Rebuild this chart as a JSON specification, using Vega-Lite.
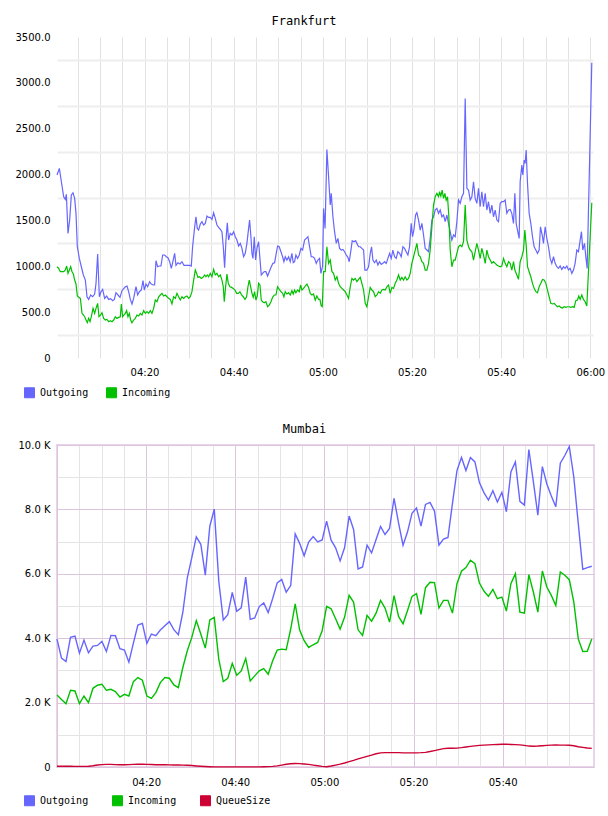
{
  "$schema": "https://vega.github.io/schema/vega-lite/v6.json",
  "padding": {"left": 15, "top": 15, "right": 0, "bottom": 0},
  "config": {
    "view": {"stroke": null},
    "font": "DejaVu Sans",
    "title": {"font": "DejaVu Sans Mono", "fontSize": 12, "fontWeight": "normal", "color": "#000000", "offset": 4, "dx": -21},
    "axis": {"labelFont": "DejaVu Sans", "labelFontSize": 10, "labelColor": "#000000", "domain": false, "ticks": false, "tickSize": 0, "title": null, "labelFlush": false, "labelOverlap": false, "labelBound": false}
  },
  "datasets": {
    "frankfurt": [
      {"min":0.37,"series":"Outgoing","value":1995},{"min":0.90,"series":"Outgoing","value":2067},{"min":1.35,"series":"Outgoing","value":1922},{"min":1.87,"series":"Outgoing","value":1758},{"min":2.24,"series":"Outgoing","value":1729},{"min":2.47,"series":"Outgoing","value":1784},{"min":2.84,"series":"Outgoing","value":1359},{"min":3.21,"series":"Outgoing","value":1504},{"min":3.59,"series":"Outgoing","value":1777},{"min":3.96,"series":"Outgoing","value":1802},
      {"min":4.33,"series":"Outgoing","value":1740},{"min":4.63,"series":"Outgoing","value":1577},{"min":4.93,"series":"Outgoing","value":1213},{"min":5.38,"series":"Outgoing","value":1086},{"min":5.83,"series":"Outgoing","value":995},{"min":6.28,"series":"Outgoing","value":905},{"min":6.73,"series":"Outgoing","value":850},{"min":7.10,"series":"Outgoing","value":668},{"min":7.47,"series":"Outgoing","value":639},{"min":7.92,"series":"Outgoing","value":687},
      {"min":8.37,"series":"Outgoing","value":668},{"min":8.82,"series":"Outgoing","value":698},{"min":9.12,"series":"Outgoing","value":814},{"min":9.49,"series":"Outgoing","value":1133},{"min":9.87,"series":"Outgoing","value":668},{"min":10.24,"series":"Outgoing","value":723},{"min":10.61,"series":"Outgoing","value":748},{"min":11.06,"series":"Outgoing","value":650},{"min":11.51,"series":"Outgoing","value":676},{"min":11.96,"series":"Outgoing","value":639},
      {"min":12.41,"series":"Outgoing","value":647},{"min":12.86,"series":"Outgoing","value":625},{"min":13.23,"series":"Outgoing","value":639},{"min":13.60,"series":"Outgoing","value":712},{"min":14.05,"series":"Outgoing","value":687},{"min":14.50,"series":"Outgoing","value":661},{"min":14.95,"series":"Outgoing","value":734},{"min":15.32,"series":"Outgoing","value":756},{"min":15.70,"series":"Outgoing","value":777},{"min":16.07,"series":"Outgoing","value":785},
      {"min":16.44,"series":"Outgoing","value":723},{"min":16.82,"series":"Outgoing","value":639},{"min":17.19,"series":"Outgoing","value":589},{"min":17.56,"series":"Outgoing","value":650},{"min":18.09,"series":"Outgoing","value":777},{"min":18.46,"series":"Outgoing","value":687},{"min":18.83,"series":"Outgoing","value":723},{"min":19.28,"series":"Outgoing","value":741},{"min":19.66,"series":"Outgoing","value":843},{"min":19.96,"series":"Outgoing","value":741},
      {"min":20.33,"series":"Outgoing","value":807},{"min":20.70,"series":"Outgoing","value":777},{"min":21.15,"series":"Outgoing","value":832},{"min":21.52,"series":"Outgoing","value":807},{"min":21.97,"series":"Outgoing","value":796},{"min":22.27,"series":"Outgoing","value":796},{"min":22.57,"series":"Outgoing","value":1061},{"min":22.94,"series":"Outgoing","value":995},{"min":23.32,"series":"Outgoing","value":1003},{"min":23.69,"series":"Outgoing","value":1003},
      {"min":24.07,"series":"Outgoing","value":1123},{"min":24.51,"series":"Outgoing","value":1123},{"min":24.89,"series":"Outgoing","value":1104},{"min":25.26,"series":"Outgoing","value":1094},{"min":25.64,"series":"Outgoing","value":1050},{"min":26.01,"series":"Outgoing","value":977},{"min":26.31,"series":"Outgoing","value":1039},{"min":26.76,"series":"Outgoing","value":1141},{"min":27.06,"series":"Outgoing","value":1010},{"min":27.50,"series":"Outgoing","value":1039},
      {"min":27.95,"series":"Outgoing","value":1025},{"min":28.40,"series":"Outgoing","value":1050},{"min":28.85,"series":"Outgoing","value":1010},{"min":29.30,"series":"Outgoing","value":1010},{"min":29.75,"series":"Outgoing","value":1010},{"min":30.19,"series":"Outgoing","value":1010},{"min":30.49,"series":"Outgoing","value":1003},{"min":30.79,"series":"Outgoing","value":1213},{"min":31.24,"series":"Outgoing","value":1424},{"min":31.54,"series":"Outgoing","value":1540},
      {"min":31.84,"series":"Outgoing","value":1413},{"min":32.14,"series":"Outgoing","value":1395},{"min":32.51,"series":"Outgoing","value":1460},{"min":32.88,"series":"Outgoing","value":1486},{"min":33.26,"series":"Outgoing","value":1450},{"min":33.63,"series":"Outgoing","value":1468},{"min":34.01,"series":"Outgoing","value":1548},{"min":34.38,"series":"Outgoing","value":1533},{"min":34.75,"series":"Outgoing","value":1533},{"min":35.13,"series":"Outgoing","value":1511},
      {"min":35.50,"series":"Outgoing","value":1584},{"min":35.87,"series":"Outgoing","value":1522},{"min":36.25,"series":"Outgoing","value":1450},{"min":36.62,"series":"Outgoing","value":1424},{"min":37.00,"series":"Outgoing","value":1402},{"min":37.37,"series":"Outgoing","value":1377},{"min":37.67,"series":"Outgoing","value":1213},{"min":37.97,"series":"Outgoing","value":984},{"min":38.27,"series":"Outgoing","value":1286},{"min":38.57,"series":"Outgoing","value":1475},
      {"min":38.86,"series":"Outgoing","value":1286},{"min":39.24,"series":"Outgoing","value":1359},{"min":39.61,"series":"Outgoing","value":1341},{"min":39.99,"series":"Outgoing","value":1377},{"min":40.36,"series":"Outgoing","value":1322},{"min":40.73,"series":"Outgoing","value":1286},{"min":41.11,"series":"Outgoing","value":1221},{"min":41.48,"series":"Outgoing","value":1250},{"min":41.85,"series":"Outgoing","value":1195},{"min":42.23,"series":"Outgoing","value":1104},
      {"min":42.60,"series":"Outgoing","value":1141},{"min":42.97,"series":"Outgoing","value":1250},{"min":43.35,"series":"Outgoing","value":1413},{"min":43.57,"series":"Outgoing","value":1504},{"min":43.87,"series":"Outgoing","value":1322},{"min":44.10,"series":"Outgoing","value":1141},{"min":44.32,"series":"Outgoing","value":1086},{"min":44.62,"series":"Outgoing","value":1322},{"min":44.92,"series":"Outgoing","value":1068},{"min":45.22,"series":"Outgoing","value":1195},
      {"min":45.59,"series":"Outgoing","value":1268},{"min":45.89,"series":"Outgoing","value":1086},{"min":46.19,"series":"Outgoing","value":905},{"min":46.49,"series":"Outgoing","value":923},{"min":46.86,"series":"Outgoing","value":941},{"min":47.23,"series":"Outgoing","value":941},{"min":47.61,"series":"Outgoing","value":894},{"min":47.98,"series":"Outgoing","value":941},{"min":48.43,"series":"Outgoing","value":995},{"min":48.80,"series":"Outgoing","value":1032},
      {"min":49.18,"series":"Outgoing","value":1039},{"min":49.55,"series":"Outgoing","value":1141},{"min":49.85,"series":"Outgoing","value":1221},{"min":50.22,"series":"Outgoing","value":1213},{"min":50.60,"series":"Outgoing","value":1159},{"min":50.97,"series":"Outgoing","value":1104},{"min":51.27,"series":"Outgoing","value":1050},{"min":51.57,"series":"Outgoing","value":1104},{"min":51.94,"series":"Outgoing","value":1068},{"min":52.32,"series":"Outgoing","value":1104},
      {"min":52.69,"series":"Outgoing","value":1050},{"min":53.06,"series":"Outgoing","value":1141},{"min":53.36,"series":"Outgoing","value":1039},{"min":53.66,"series":"Outgoing","value":1050},{"min":53.96,"series":"Outgoing","value":1123},{"min":54.33,"series":"Outgoing","value":1086},{"min":54.71,"series":"Outgoing","value":1123},{"min":55.08,"series":"Outgoing","value":1195},{"min":55.46,"series":"Outgoing","value":1177},{"min":55.90,"series":"Outgoing","value":1286},
      {"min":56.28,"series":"Outgoing","value":1304},{"min":56.65,"series":"Outgoing","value":1322},{"min":57.03,"series":"Outgoing","value":1213},{"min":57.40,"series":"Outgoing","value":1104},{"min":57.77,"series":"Outgoing","value":1104},{"min":58.15,"series":"Outgoing","value":1086},{"min":58.52,"series":"Outgoing","value":1032},{"min":58.89,"series":"Outgoing","value":1068},{"min":59.27,"series":"Outgoing","value":1086},{"min":59.57,"series":"Outgoing","value":923},
      {"min":59.94,"series":"Outgoing","value":1000},{"min":60.16,"series":"Outgoing","value":1631},{"min":60.50,"series":"Outgoing","value":1413},{"min":60.91,"series":"Outgoing","value":2274},{"min":61.29,"series":"Outgoing","value":1976},{"min":61.66,"series":"Outgoing","value":1668},{"min":61.89,"series":"Outgoing","value":1795},{"min":62.26,"series":"Outgoing","value":1540},{"min":62.63,"series":"Outgoing","value":1377},{"min":63.01,"series":"Outgoing","value":1250},
      {"min":63.38,"series":"Outgoing","value":1304},{"min":63.75,"series":"Outgoing","value":1195},{"min":64.13,"series":"Outgoing","value":1177},{"min":64.50,"series":"Outgoing","value":1184},{"min":64.88,"series":"Outgoing","value":1159},{"min":65.25,"series":"Outgoing","value":1123},{"min":65.62,"series":"Outgoing","value":1097},{"min":65.92,"series":"Outgoing","value":1050},{"min":66.30,"series":"Outgoing","value":1177},{"min":66.59,"series":"Outgoing","value":1279},
      {"min":66.97,"series":"Outgoing","value":1268},{"min":67.34,"series":"Outgoing","value":1279},{"min":67.64,"series":"Outgoing","value":1250},{"min":68.01,"series":"Outgoing","value":1213},{"min":68.39,"series":"Outgoing","value":1213},{"min":68.76,"series":"Outgoing","value":1195},{"min":69.14,"series":"Outgoing","value":1177},{"min":69.43,"series":"Outgoing","value":959},{"min":69.88,"series":"Outgoing","value":959},{"min":70.26,"series":"Outgoing","value":995},
      {"min":70.63,"series":"Outgoing","value":1141},{"min":70.93,"series":"Outgoing","value":1213},{"min":71.23,"series":"Outgoing","value":1068},{"min":71.60,"series":"Outgoing","value":1039},{"min":71.98,"series":"Outgoing","value":1068},{"min":72.35,"series":"Outgoing","value":1014},{"min":72.72,"series":"Outgoing","value":1050},{"min":73.10,"series":"Outgoing","value":1021},{"min":73.47,"series":"Outgoing","value":1032},{"min":73.84,"series":"Outgoing","value":1050},
      {"min":74.22,"series":"Outgoing","value":1032},{"min":74.59,"series":"Outgoing","value":1086},{"min":74.97,"series":"Outgoing","value":1141},{"min":75.34,"series":"Outgoing","value":1086},{"min":75.71,"series":"Outgoing","value":1177},{"min":76.09,"series":"Outgoing","value":1104},{"min":76.46,"series":"Outgoing","value":1086},{"min":76.83,"series":"Outgoing","value":1159},{"min":77.21,"series":"Outgoing","value":1141},{"min":77.58,"series":"Outgoing","value":1104},
      {"min":77.96,"series":"Outgoing","value":1213},{"min":78.33,"series":"Outgoing","value":1195},{"min":78.70,"series":"Outgoing","value":1159},{"min":79.08,"series":"Outgoing","value":1123},{"min":79.45,"series":"Outgoing","value":1213},{"min":79.82,"series":"Outgoing","value":1468},{"min":80.12,"series":"Outgoing","value":1322},{"min":80.42,"series":"Outgoing","value":1395},{"min":80.80,"series":"Outgoing","value":1559},{"min":81.09,"series":"Outgoing","value":1584},
      {"min":81.47,"series":"Outgoing","value":1504},{"min":81.84,"series":"Outgoing","value":1395},{"min":82.22,"series":"Outgoing","value":1468},{"min":82.59,"series":"Outgoing","value":1341},{"min":82.96,"series":"Outgoing","value":1195},{"min":83.34,"series":"Outgoing","value":1177},{"min":83.71,"series":"Outgoing","value":1159},{"min":84.08,"series":"Outgoing","value":1304},{"min":84.46,"series":"Outgoing","value":1504},{"min":84.83,"series":"Outgoing","value":1540},
      {"min":85.20,"series":"Outgoing","value":1613},{"min":85.58,"series":"Outgoing","value":1631},{"min":85.95,"series":"Outgoing","value":1577},{"min":86.33,"series":"Outgoing","value":1613},{"min":86.70,"series":"Outgoing","value":1540},{"min":87.07,"series":"Outgoing","value":1559},{"min":87.45,"series":"Outgoing","value":1486},{"min":87.82,"series":"Outgoing","value":1559},{"min":88.19,"series":"Outgoing","value":1468},{"min":88.57,"series":"Outgoing","value":1377},
      {"min":88.94,"series":"Outgoing","value":1286},{"min":89.32,"series":"Outgoing","value":1341},{"min":89.69,"series":"Outgoing","value":1322},{"min":90.06,"series":"Outgoing","value":1486},{"min":90.44,"series":"Outgoing","value":1722},{"min":90.81,"series":"Outgoing","value":1686},{"min":91.18,"series":"Outgoing","value":1758},{"min":91.56,"series":"Outgoing","value":1795},{"min":91.93,"series":"Outgoing","value":2830},{"min":92.31,"series":"Outgoing","value":1850},
      {"min":92.68,"series":"Outgoing","value":1831},{"min":93.05,"series":"Outgoing","value":1722},{"min":93.43,"series":"Outgoing","value":1758},{"min":93.80,"series":"Outgoing","value":1922},{"min":94.17,"series":"Outgoing","value":1740},{"min":94.55,"series":"Outgoing","value":1686},{"min":94.92,"series":"Outgoing","value":1849},{"min":95.29,"series":"Outgoing","value":1649},{"min":95.67,"series":"Outgoing","value":1813},{"min":96.04,"series":"Outgoing","value":1649},
      {"min":96.42,"series":"Outgoing","value":1795},{"min":96.79,"series":"Outgoing","value":1613},{"min":97.16,"series":"Outgoing","value":1704},{"min":97.54,"series":"Outgoing","value":1577},{"min":97.91,"series":"Outgoing","value":1668},{"min":98.28,"series":"Outgoing","value":1540},{"min":98.66,"series":"Outgoing","value":1613},{"min":99.03,"series":"Outgoing","value":1504},{"min":99.40,"series":"Outgoing","value":1486},{"min":99.78,"series":"Outgoing","value":1686},
      {"min":100.15,"series":"Outgoing","value":1704},{"min":100.53,"series":"Outgoing","value":1704},{"min":100.90,"series":"Outgoing","value":1722},{"min":101.27,"series":"Outgoing","value":1577},{"min":101.65,"series":"Outgoing","value":1613},{"min":102.02,"series":"Outgoing","value":1620},{"min":102.39,"series":"Outgoing","value":1577},{"min":102.77,"series":"Outgoing","value":1468},{"min":103.07,"series":"Outgoing","value":1795},{"min":103.37,"series":"Outgoing","value":1468},
      {"min":103.66,"series":"Outgoing","value":1395},{"min":104.04,"series":"Outgoing","value":1304},{"min":104.26,"series":"Outgoing","value":1922},{"min":104.64,"series":"Outgoing","value":2104},{"min":104.86,"series":"Outgoing","value":1995},{"min":105.16,"series":"Outgoing","value":2158},{"min":105.38,"series":"Outgoing","value":2122},{"min":105.61,"series":"Outgoing","value":2267},{"min":105.91,"series":"Outgoing","value":1904},{"min":106.28,"series":"Outgoing","value":1577},
      {"min":106.65,"series":"Outgoing","value":1468},{"min":107.03,"series":"Outgoing","value":1322},{"min":107.40,"series":"Outgoing","value":1213},{"min":107.78,"series":"Outgoing","value":1177},{"min":108.15,"series":"Outgoing","value":1141},{"min":108.52,"series":"Outgoing","value":1177},{"min":108.82,"series":"Outgoing","value":1431},{"min":109.20,"series":"Outgoing","value":1341},{"min":109.49,"series":"Outgoing","value":1250},{"min":109.87,"series":"Outgoing","value":1431},
      {"min":110.24,"series":"Outgoing","value":1304},{"min":110.62,"series":"Outgoing","value":1213},{"min":110.99,"series":"Outgoing","value":1086},{"min":111.36,"series":"Outgoing","value":1032},{"min":111.74,"series":"Outgoing","value":1104},{"min":112.11,"series":"Outgoing","value":1032},{"min":112.49,"series":"Outgoing","value":995},{"min":112.86,"series":"Outgoing","value":977},{"min":113.23,"series":"Outgoing","value":1003},{"min":113.61,"series":"Outgoing","value":966},
      {"min":113.98,"series":"Outgoing","value":995},{"min":114.35,"series":"Outgoing","value":977},{"min":114.73,"series":"Outgoing","value":1003},{"min":115.10,"series":"Outgoing","value":959},{"min":115.47,"series":"Outgoing","value":977},{"min":115.85,"series":"Outgoing","value":923},{"min":116.22,"series":"Outgoing","value":959},{"min":116.59,"series":"Outgoing","value":1032},{"min":116.97,"series":"Outgoing","value":1177},{"min":117.34,"series":"Outgoing","value":1159},
      {"min":117.72,"series":"Outgoing","value":1286},{"min":118.01,"series":"Outgoing","value":1377},{"min":118.31,"series":"Outgoing","value":1177},{"min":118.69,"series":"Outgoing","value":1250},{"min":118.99,"series":"Outgoing","value":1104},{"min":119.29,"series":"Outgoing","value":977},{"min":120.33,"series":"Outgoing","value":3219},

      {"min":0.37,"series":"Incoming","value":995},{"min":0.75,"series":"Incoming","value":977},{"min":1.12,"series":"Incoming","value":941},{"min":1.49,"series":"Incoming","value":941},{"min":1.87,"series":"Incoming","value":941},{"min":2.24,"series":"Incoming","value":959},{"min":2.54,"series":"Incoming","value":1003},{"min":2.84,"series":"Incoming","value":923},{"min":3.14,"series":"Incoming","value":959},{"min":3.44,"series":"Incoming","value":995},
      {"min":3.74,"series":"Incoming","value":941},{"min":4.04,"series":"Incoming","value":915},{"min":4.33,"series":"Incoming","value":850},{"min":4.63,"series":"Incoming","value":807},{"min":4.93,"series":"Incoming","value":676},{"min":5.23,"series":"Incoming","value":661},{"min":5.61,"series":"Incoming","value":650},{"min":5.98,"series":"Incoming","value":487},{"min":6.28,"series":"Incoming","value":469},{"min":6.58,"series":"Incoming","value":450},
      {"min":6.88,"series":"Incoming","value":414},{"min":7.17,"series":"Incoming","value":385},{"min":7.47,"series":"Incoming","value":432},{"min":7.77,"series":"Incoming","value":396},{"min":8.07,"series":"Incoming","value":450},{"min":8.45,"series":"Incoming","value":541},{"min":8.82,"series":"Incoming","value":487},{"min":9.12,"series":"Incoming","value":541},{"min":9.49,"series":"Incoming","value":596},{"min":9.79,"series":"Incoming","value":450},
      {"min":10.16,"series":"Incoming","value":469},{"min":10.46,"series":"Incoming","value":494},{"min":10.84,"series":"Incoming","value":432},{"min":11.21,"series":"Incoming","value":414},{"min":11.58,"series":"Incoming","value":421},{"min":11.96,"series":"Incoming","value":396},{"min":12.33,"series":"Incoming","value":407},{"min":12.71,"series":"Incoming","value":396},{"min":13.08,"series":"Incoming","value":414},{"min":13.45,"series":"Incoming","value":450},
      {"min":13.83,"series":"Incoming","value":432},{"min":14.20,"series":"Incoming","value":443},{"min":14.57,"series":"Incoming","value":450},{"min":14.80,"series":"Incoming","value":589},{"min":15.10,"series":"Incoming","value":450},{"min":15.40,"series":"Incoming","value":469},{"min":15.70,"series":"Incoming","value":487},{"min":15.99,"series":"Incoming","value":516},{"min":16.29,"series":"Incoming","value":450},{"min":16.59,"series":"Incoming","value":487},
      {"min":16.89,"series":"Incoming","value":414},{"min":17.19,"series":"Incoming","value":385},{"min":17.56,"series":"Incoming","value":414},{"min":17.94,"series":"Incoming","value":432},{"min":18.31,"series":"Incoming","value":469},{"min":18.68,"series":"Incoming","value":458},{"min":19.06,"series":"Incoming","value":487},{"min":19.43,"series":"Incoming","value":469},{"min":19.81,"series":"Incoming","value":516},{"min":20.18,"series":"Incoming","value":487},
      {"min":20.55,"series":"Incoming","value":505},{"min":20.93,"series":"Incoming","value":487},{"min":21.30,"series":"Incoming","value":516},{"min":21.67,"series":"Incoming","value":487},{"min":22.05,"series":"Incoming","value":541},{"min":22.42,"series":"Incoming","value":632},{"min":22.80,"series":"Incoming","value":614},{"min":23.17,"series":"Incoming","value":668},{"min":23.54,"series":"Incoming","value":687},{"min":23.92,"series":"Incoming","value":705},
      {"min":24.29,"series":"Incoming","value":676},{"min":24.66,"series":"Incoming","value":687},{"min":25.04,"series":"Incoming","value":668},{"min":25.41,"series":"Incoming","value":650},{"min":25.78,"series":"Incoming","value":639},{"min":26.16,"series":"Incoming","value":589},{"min":26.53,"series":"Incoming","value":668},{"min":26.91,"series":"Incoming","value":650},{"min":27.28,"series":"Incoming","value":705},{"min":27.65,"series":"Incoming","value":668},
      {"min":28.03,"series":"Incoming","value":632},{"min":28.40,"series":"Incoming","value":668},{"min":28.77,"series":"Incoming","value":650},{"min":29.15,"series":"Incoming","value":668},{"min":29.52,"series":"Incoming","value":676},{"min":29.90,"series":"Incoming","value":650},{"min":30.27,"series":"Incoming","value":668},{"min":30.64,"series":"Incoming","value":723},{"min":31.02,"series":"Incoming","value":850},{"min":31.39,"series":"Incoming","value":959},
      {"min":31.69,"series":"Incoming","value":923},{"min":31.99,"series":"Incoming","value":879},{"min":32.36,"series":"Incoming","value":886},{"min":32.74,"series":"Incoming","value":868},{"min":33.11,"series":"Incoming","value":879},{"min":33.48,"series":"Incoming","value":905},{"min":33.78,"series":"Incoming","value":886},{"min":34.08,"series":"Incoming","value":905},{"min":34.38,"series":"Incoming","value":886},{"min":34.75,"series":"Incoming","value":923},
      {"min":35.13,"series":"Incoming","value":886},{"min":35.50,"series":"Incoming","value":966},{"min":35.87,"series":"Incoming","value":905},{"min":36.25,"series":"Incoming","value":923},{"min":36.62,"series":"Incoming","value":886},{"min":37.00,"series":"Incoming","value":905},{"min":37.37,"series":"Incoming","value":850},{"min":37.67,"series":"Incoming","value":777},{"min":37.89,"series":"Incoming","value":614},{"min":38.19,"series":"Incoming","value":777},
      {"min":38.49,"series":"Incoming","value":915},{"min":38.79,"series":"Incoming","value":814},{"min":39.16,"series":"Incoming","value":777},{"min":39.54,"series":"Incoming","value":770},{"min":39.91,"series":"Incoming","value":759},{"min":40.28,"series":"Incoming","value":741},{"min":40.66,"series":"Incoming","value":705},{"min":41.03,"series":"Incoming","value":705},{"min":41.40,"series":"Incoming","value":723},{"min":41.78,"series":"Incoming","value":687},
      {"min":42.15,"series":"Incoming","value":668},{"min":42.53,"series":"Incoming","value":639},{"min":42.90,"series":"Incoming","value":668},{"min":43.20,"series":"Incoming","value":777},{"min":43.50,"series":"Incoming","value":850},{"min":43.80,"series":"Incoming","value":777},{"min":44.10,"series":"Incoming","value":705},{"min":44.39,"series":"Incoming","value":661},{"min":44.69,"series":"Incoming","value":723},{"min":44.99,"series":"Incoming","value":632},
      {"min":45.29,"series":"Incoming","value":676},{"min":45.59,"series":"Incoming","value":814},{"min":45.89,"series":"Incoming","value":796},{"min":46.19,"series":"Incoming","value":632},{"min":46.49,"series":"Incoming","value":614},{"min":46.86,"series":"Incoming","value":603},{"min":47.23,"series":"Incoming","value":614},{"min":47.61,"series":"Incoming","value":559},{"min":47.98,"series":"Incoming","value":577},{"min":48.36,"series":"Incoming","value":614},
      {"min":48.73,"series":"Incoming","value":661},{"min":49.10,"series":"Incoming","value":687},{"min":49.48,"series":"Incoming","value":687},{"min":49.85,"series":"Incoming","value":777},{"min":50.22,"series":"Incoming","value":748},{"min":50.60,"series":"Incoming","value":723},{"min":50.97,"series":"Incoming","value":705},{"min":51.27,"series":"Incoming","value":668},{"min":51.57,"series":"Incoming","value":723},{"min":51.94,"series":"Incoming","value":698},
      {"min":52.32,"series":"Incoming","value":712},{"min":52.69,"series":"Incoming","value":687},{"min":53.06,"series":"Incoming","value":734},{"min":53.36,"series":"Incoming","value":698},{"min":53.66,"series":"Incoming","value":741},{"min":53.96,"series":"Incoming","value":712},{"min":54.33,"series":"Incoming","value":741},{"min":54.71,"series":"Incoming","value":723},{"min":55.01,"series":"Incoming","value":796},{"min":55.31,"series":"Incoming","value":741},
      {"min":55.68,"series":"Incoming","value":759},{"min":56.05,"series":"Incoming","value":785},{"min":56.43,"series":"Incoming","value":807},{"min":56.80,"series":"Incoming","value":770},{"min":57.17,"series":"Incoming","value":705},{"min":57.55,"series":"Incoming","value":687},{"min":57.92,"series":"Incoming","value":698},{"min":58.30,"series":"Incoming","value":632},{"min":58.67,"series":"Incoming","value":676},{"min":59.04,"series":"Incoming","value":639},
      {"min":59.34,"series":"Incoming","value":639},{"min":59.64,"series":"Incoming","value":567},{"min":59.87,"series":"Incoming","value":559},{"min":60.17,"series":"Incoming","value":941},{"min":60.54,"series":"Incoming","value":941},{"min":60.91,"series":"Incoming","value":1213},{"min":61.29,"series":"Incoming","value":1032},{"min":61.66,"series":"Incoming","value":1068},{"min":62.04,"series":"Incoming","value":941},{"min":62.41,"series":"Incoming","value":923},
      {"min":62.78,"series":"Incoming","value":850},{"min":63.16,"series":"Incoming","value":886},{"min":63.53,"series":"Incoming","value":814},{"min":63.90,"series":"Incoming","value":777},{"min":64.28,"series":"Incoming","value":759},{"min":64.65,"series":"Incoming","value":741},{"min":65.03,"series":"Incoming","value":723},{"min":65.40,"series":"Incoming","value":687},{"min":65.77,"series":"Incoming","value":650},{"min":66.15,"series":"Incoming","value":777},
      {"min":66.52,"series":"Incoming","value":868},{"min":66.89,"series":"Incoming","value":850},{"min":67.27,"series":"Incoming","value":868},{"min":67.64,"series":"Incoming","value":832},{"min":68.01,"series":"Incoming","value":857},{"min":68.39,"series":"Incoming","value":879},{"min":68.76,"series":"Incoming","value":814},{"min":69.14,"series":"Incoming","value":741},{"min":69.51,"series":"Incoming","value":596},{"min":69.88,"series":"Incoming","value":559},
      {"min":70.26,"series":"Incoming","value":668},{"min":70.63,"series":"Incoming","value":770},{"min":71.00,"series":"Incoming","value":741},{"min":71.38,"series":"Incoming","value":723},{"min":71.75,"series":"Incoming","value":668},{"min":72.13,"series":"Incoming","value":687},{"min":72.50,"series":"Incoming","value":723},{"min":72.87,"series":"Incoming","value":705},{"min":73.25,"series":"Incoming","value":741},{"min":73.62,"series":"Incoming","value":748},
      {"min":73.99,"series":"Incoming","value":741},{"min":74.37,"series":"Incoming","value":777},{"min":74.74,"series":"Incoming","value":796},{"min":75.11,"series":"Incoming","value":705},{"min":75.49,"series":"Incoming","value":770},{"min":75.86,"series":"Incoming","value":759},{"min":76.24,"series":"Incoming","value":814},{"min":76.61,"series":"Incoming","value":850},{"min":76.98,"series":"Incoming","value":905},{"min":77.36,"series":"Incoming","value":850},
      {"min":77.73,"series":"Incoming","value":879},{"min":78.10,"series":"Incoming","value":850},{"min":78.48,"series":"Incoming","value":886},{"min":78.85,"series":"Incoming","value":850},{"min":79.23,"series":"Incoming","value":868},{"min":79.60,"series":"Incoming","value":923},{"min":79.97,"series":"Incoming","value":1032},{"min":80.35,"series":"Incoming","value":1104},{"min":80.72,"series":"Incoming","value":1177},{"min":81.09,"series":"Incoming","value":1250},
      {"min":81.47,"series":"Incoming","value":1123},{"min":81.84,"series":"Incoming","value":1104},{"min":82.22,"series":"Incoming","value":1050},{"min":82.59,"series":"Incoming","value":1032},{"min":82.96,"series":"Incoming","value":959},{"min":83.34,"series":"Incoming","value":959},{"min":83.71,"series":"Incoming","value":1032},{"min":84.08,"series":"Incoming","value":1177},{"min":84.46,"series":"Incoming","value":1431},{"min":84.83,"series":"Incoming","value":1668},
      {"min":85.20,"series":"Incoming","value":1758},{"min":85.58,"series":"Incoming","value":1795},{"min":85.95,"series":"Incoming","value":1758},{"min":86.18,"series":"Incoming","value":1813},{"min":86.47,"series":"Incoming","value":1766},{"min":86.77,"series":"Incoming","value":1831},{"min":87.07,"series":"Incoming","value":1740},{"min":87.37,"series":"Incoming","value":1795},{"min":87.67,"series":"Incoming","value":1722},{"min":87.97,"series":"Incoming","value":1758},
      {"min":88.27,"series":"Incoming","value":1540},{"min":88.57,"series":"Incoming","value":1177},{"min":88.94,"series":"Incoming","value":995},{"min":89.32,"series":"Incoming","value":1068},{"min":89.69,"series":"Incoming","value":1068},{"min":90.06,"series":"Incoming","value":1141},{"min":90.44,"series":"Incoming","value":1213},{"min":90.81,"series":"Incoming","value":1231},{"min":91.18,"series":"Incoming","value":1213},{"min":91.56,"series":"Incoming","value":1268},
      {"min":91.93,"series":"Incoming","value":1668},{"min":92.31,"series":"Incoming","value":1286},{"min":92.68,"series":"Incoming","value":1213},{"min":93.05,"series":"Incoming","value":1177},{"min":93.43,"series":"Incoming","value":1159},{"min":93.80,"series":"Incoming","value":1068},{"min":94.17,"series":"Incoming","value":1159},{"min":94.55,"series":"Incoming","value":1250},{"min":94.92,"series":"Incoming","value":1177},{"min":95.29,"series":"Incoming","value":1086},
      {"min":95.67,"series":"Incoming","value":1195},{"min":96.04,"series":"Incoming","value":1123},{"min":96.42,"series":"Incoming","value":1032},{"min":96.79,"series":"Incoming","value":1177},{"min":97.16,"series":"Incoming","value":1104},{"min":97.54,"series":"Incoming","value":1068},{"min":97.91,"series":"Incoming","value":1032},{"min":98.28,"series":"Incoming","value":1050},{"min":98.66,"series":"Incoming","value":1032},{"min":99.03,"series":"Incoming","value":1014},
      {"min":99.40,"series":"Incoming","value":1003},{"min":99.78,"series":"Incoming","value":995},{"min":100.15,"series":"Incoming","value":1003},{"min":100.53,"series":"Incoming","value":1086},{"min":100.90,"series":"Incoming","value":1032},{"min":101.27,"series":"Incoming","value":995},{"min":101.65,"series":"Incoming","value":1050},{"min":102.02,"series":"Incoming","value":1032},{"min":102.39,"series":"Incoming","value":959},{"min":102.77,"series":"Incoming","value":1050},
      {"min":103.07,"series":"Incoming","value":959},{"min":103.52,"series":"Incoming","value":905},{"min":103.89,"series":"Incoming","value":857},{"min":104.26,"series":"Incoming","value":1050},{"min":104.64,"series":"Incoming","value":1104},{"min":105.01,"series":"Incoming","value":1177},{"min":105.31,"series":"Incoming","value":1395},{"min":105.61,"series":"Incoming","value":1231},{"min":105.91,"series":"Incoming","value":995},{"min":106.28,"series":"Incoming","value":941},
      {"min":106.65,"series":"Incoming","value":886},{"min":107.03,"series":"Incoming","value":814},{"min":107.40,"series":"Incoming","value":759},{"min":107.78,"series":"Incoming","value":723},{"min":108.15,"series":"Incoming","value":712},{"min":108.52,"series":"Incoming","value":777},{"min":108.90,"series":"Incoming","value":814},{"min":109.27,"series":"Incoming","value":857},{"min":109.64,"series":"Incoming","value":850},{"min":110.02,"series":"Incoming","value":814},
      {"min":110.39,"series":"Incoming","value":741},{"min":110.76,"series":"Incoming","value":668},{"min":111.14,"series":"Incoming","value":596},{"min":111.51,"series":"Incoming","value":589},{"min":111.89,"series":"Incoming","value":596},{"min":112.26,"series":"Incoming","value":577},{"min":112.63,"series":"Incoming","value":559},{"min":113.01,"series":"Incoming","value":567},{"min":113.38,"series":"Incoming","value":552},{"min":113.76,"series":"Incoming","value":545},
      {"min":114.13,"series":"Incoming","value":559},{"min":114.50,"series":"Incoming","value":552},{"min":114.88,"series":"Incoming","value":559},{"min":115.25,"series":"Incoming","value":559},{"min":115.62,"series":"Incoming","value":552},{"min":116.00,"series":"Incoming","value":559},{"min":116.37,"series":"Incoming","value":552},{"min":116.74,"series":"Incoming","value":625},{"min":117.12,"series":"Incoming","value":632},{"min":117.42,"series":"Incoming","value":676},
      {"min":117.72,"series":"Incoming","value":639},{"min":118.09,"series":"Incoming","value":687},{"min":118.46,"series":"Incoming","value":639},{"min":118.84,"series":"Incoming","value":614},{"min":119.21,"series":"Incoming","value":567},{"min":120.33,"series":"Incoming","value":1693}
    ],
    "mumbai": [
      {"min":0,"Outgoing":3973,"Incoming":2236,"QueueSize":25},{"min":1.01,"Outgoing":3380,"Incoming":2100,"QueueSize":25},{"min":2.02,"Outgoing":3276,"Incoming":1966,"QueueSize":22},{"min":3.03,"Outgoing":4025,"Incoming":2382,"QueueSize":22},{"min":4.03,"Outgoing":4066,"Incoming":2361,"QueueSize":20},
      {"min":5.04,"Outgoing":3536,"Incoming":1966,"QueueSize":20},{"min":6.05,"Outgoing":3942,"Incoming":2205,"QueueSize":20},{"min":7.06,"Outgoing":3546,"Incoming":1997,"QueueSize":25},{"min":8.07,"Outgoing":3754,"Incoming":2444,"QueueSize":40},{"min":9.08,"Outgoing":3775,"Incoming":2538,"QueueSize":60},
      {"min":10.08,"Outgoing":3900,"Incoming":2569,"QueueSize":75},{"min":11.09,"Outgoing":3588,"Incoming":2382,"QueueSize":80},{"min":12.10,"Outgoing":4087,"Incoming":2413,"QueueSize":80},{"min":13.11,"Outgoing":4077,"Incoming":2340,"QueueSize":75},{"min":14.12,"Outgoing":3671,"Incoming":2174,"QueueSize":72},
      {"min":15.13,"Outgoing":3630,"Incoming":2257,"QueueSize":72},{"min":16.13,"Outgoing":3255,"Incoming":2205,"QueueSize":75},{"min":17.14,"Outgoing":3848,"Incoming":2652,"QueueSize":80},{"min":18.15,"Outgoing":4410,"Incoming":2777,"QueueSize":85},{"min":19.16,"Outgoing":4462,"Incoming":2694,"QueueSize":85},
      {"min":20.17,"Outgoing":3838,"Incoming":2205,"QueueSize":82},{"min":21.18,"Outgoing":4129,"Incoming":2132,"QueueSize":78},{"min":22.18,"Outgoing":4077,"Incoming":2309,"QueueSize":72},{"min":23.19,"Outgoing":4254,"Incoming":2621,"QueueSize":70},{"min":24.20,"Outgoing":4389,"Incoming":2777,"QueueSize":68},
      {"min":25.21,"Outgoing":4514,"Incoming":2756,"QueueSize":65},{"min":26.22,"Outgoing":4264,"Incoming":2548,"QueueSize":62},{"min":27.23,"Outgoing":4108,"Incoming":2465,"QueueSize":60},{"min":28.24,"Outgoing":4806,"Incoming":3089,"QueueSize":58},{"min":29.24,"Outgoing":5877,"Incoming":3609,"QueueSize":55},
      {"min":30.25,"Outgoing":6500,"Incoming":4025,"QueueSize":45},{"min":31.26,"Outgoing":7145,"Incoming":4545,"QueueSize":32},{"min":32.27,"Outgoing":6917,"Incoming":4129,"QueueSize":22},{"min":33.28,"Outgoing":5960,"Incoming":3692,"QueueSize":15},{"min":34.29,"Outgoing":7478,"Incoming":4566,"QueueSize":10},
      {"min":35.29,"Outgoing":8008,"Incoming":4649,"QueueSize":5},{"min":36.30,"Outgoing":5773,"Incoming":3349,"QueueSize":5},{"min":37.31,"Outgoing":4566,"Incoming":2652,"QueueSize":5},{"min":38.32,"Outgoing":4733,"Incoming":2756,"QueueSize":5},{"min":39.33,"Outgoing":5419,"Incoming":3214,"QueueSize":5},
      {"min":40.34,"Outgoing":4837,"Incoming":2850,"QueueSize":5},{"min":41.34,"Outgoing":4941,"Incoming":2985,"QueueSize":5},{"min":42.35,"Outgoing":5898,"Incoming":3370,"QueueSize":5},{"min":43.36,"Outgoing":4587,"Incoming":2673,"QueueSize":5},{"min":44.37,"Outgoing":4628,"Incoming":2829,"QueueSize":5},
      {"min":45.38,"Outgoing":4982,"Incoming":2985,"QueueSize":5},{"min":46.39,"Outgoing":5096,"Incoming":3058,"QueueSize":8},{"min":47.39,"Outgoing":4795,"Incoming":2881,"QueueSize":12},{"min":48.40,"Outgoing":5232,"Incoming":3297,"QueueSize":20},{"min":49.41,"Outgoing":5719,"Incoming":3630,"QueueSize":35},
      {"min":50.42,"Outgoing":5823,"Incoming":3661,"QueueSize":60},{"min":51.43,"Outgoing":5428,"Incoming":3640,"QueueSize":85},{"min":52.44,"Outgoing":5636,"Incoming":4285,"QueueSize":100},{"min":53.45,"Outgoing":7237,"Incoming":5065,"QueueSize":108},{"min":54.45,"Outgoing":6946,"Incoming":4254,"QueueSize":105},
      {"min":55.46,"Outgoing":6561,"Incoming":3921,"QueueSize":95},{"min":56.47,"Outgoing":6988,"Incoming":3713,"QueueSize":80},{"min":57.48,"Outgoing":7155,"Incoming":3796,"QueueSize":60},{"min":58.49,"Outgoing":6988,"Incoming":3869,"QueueSize":40},{"min":59.50,"Outgoing":7051,"Incoming":4233,"QueueSize":20},
      {"min":60.50,"Outgoing":7637,"Incoming":4987,"QueueSize":10},{"min":61.51,"Outgoing":7044,"Incoming":4914,"QueueSize":30},{"min":62.52,"Outgoing":6805,"Incoming":4603,"QueueSize":60},{"min":63.53,"Outgoing":6400,"Incoming":4281,"QueueSize":90},{"min":64.54,"Outgoing":6816,"Incoming":4655,"QueueSize":125},
      {"min":65.55,"Outgoing":7793,"Incoming":5330,"QueueSize":165},{"min":66.55,"Outgoing":7377,"Incoming":5122,"QueueSize":205},{"min":67.56,"Outgoing":6151,"Incoming":4260,"QueueSize":250},{"min":68.57,"Outgoing":6213,"Incoming":4083,"QueueSize":290},{"min":69.58,"Outgoing":6889,"Incoming":4707,"QueueSize":330},
      {"min":70.59,"Outgoing":6650,"Incoming":4530,"QueueSize":370},{"min":71.60,"Outgoing":7065,"Incoming":4779,"QueueSize":410},{"min":72.60,"Outgoing":7470,"Incoming":5174,"QueueSize":440},{"min":73.61,"Outgoing":7221,"Incoming":4935,"QueueSize":447},{"min":74.62,"Outgoing":7408,"Incoming":4499,"QueueSize":447},
      {"min":75.63,"Outgoing":8343,"Incoming":5320,"QueueSize":447},{"min":76.64,"Outgoing":7585,"Incoming":4675,"QueueSize":445},{"min":77.65,"Outgoing":6889,"Incoming":4447,"QueueSize":440},{"min":78.66,"Outgoing":7304,"Incoming":4862,"QueueSize":440},{"min":79.66,"Outgoing":7876,"Incoming":5299,"QueueSize":438},
      {"min":80.67,"Outgoing":8042,"Incoming":5382,"QueueSize":440},{"min":81.68,"Outgoing":7481,"Incoming":4738,"QueueSize":445},{"min":82.69,"Outgoing":8156,"Incoming":5569,"QueueSize":455},{"min":83.70,"Outgoing":8218,"Incoming":5735,"QueueSize":480},{"min":84.71,"Outgoing":7948,"Incoming":5725,"QueueSize":510},
      {"min":85.71,"Outgoing":6889,"Incoming":4935,"QueueSize":540},{"min":86.72,"Outgoing":7076,"Incoming":5174,"QueueSize":570},{"min":87.73,"Outgoing":7128,"Incoming":5174,"QueueSize":582},{"min":88.74,"Outgoing":8187,"Incoming":4779,"QueueSize":580},{"min":89.75,"Outgoing":9206,"Incoming":5694,"QueueSize":585},
      {"min":90.76,"Outgoing":9611,"Incoming":6078,"QueueSize":600},{"min":91.76,"Outgoing":9206,"Incoming":6192,"QueueSize":620},{"min":92.77,"Outgoing":9611,"Incoming":6421,"QueueSize":640},{"min":93.78,"Outgoing":9476,"Incoming":6317,"QueueSize":655},{"min":94.79,"Outgoing":8832,"Incoming":5715,"QueueSize":670},
      {"min":95.80,"Outgoing":8520,"Incoming":5465,"QueueSize":680},{"min":96.81,"Outgoing":8291,"Incoming":5299,"QueueSize":688},{"min":97.81,"Outgoing":8582,"Incoming":5517,"QueueSize":695},{"min":98.82,"Outgoing":8229,"Incoming":5226,"QueueSize":700},{"min":99.83,"Outgoing":8530,"Incoming":5278,"QueueSize":706},
      {"min":100.84,"Outgoing":7928,"Incoming":4842,"QueueSize":707},{"min":101.85,"Outgoing":9164,"Incoming":5694,"QueueSize":700},{"min":102.86,"Outgoing":9476,"Incoming":6005,"QueueSize":695},{"min":103.87,"Outgoing":8250,"Incoming":4811,"QueueSize":686},{"min":104.87,"Outgoing":8135,"Incoming":4779,"QueueSize":670},
      {"min":105.88,"Outgoing":9860,"Incoming":5974,"QueueSize":650},{"min":106.89,"Outgoing":8863,"Incoming":5434,"QueueSize":645},{"min":107.90,"Outgoing":7824,"Incoming":4811,"QueueSize":650},{"min":108.91,"Outgoing":9330,"Incoming":6088,"QueueSize":660},{"min":109.92,"Outgoing":8790,"Incoming":5590,"QueueSize":670},
      {"min":110.92,"Outgoing":8416,"Incoming":5330,"QueueSize":680},{"min":111.93,"Outgoing":8083,"Incoming":5018,"QueueSize":685},{"min":112.94,"Outgoing":9434,"Incoming":6057,"QueueSize":680},{"min":113.95,"Outgoing":9673,"Incoming":5953,"QueueSize":678},{"min":114.96,"Outgoing":9954,"Incoming":5818,"QueueSize":675},
      {"min":115.97,"Outgoing":9000,"Incoming":5122,"QueueSize":660},{"min":116.97,"Outgoing":7560,"Incoming":3979,"QueueSize":630},{"min":117.98,"Outgoing":6140,"Incoming":3585,"QueueSize":610},{"min":118.99,"Outgoing":6192,"Incoming":3595,"QueueSize":590},{"min":120.00,"Outgoing":6234,"Incoming":3979,"QueueSize":580}
    ]
  },
  "vconcat": [
    {
      "title": {"text": "Frankfurt"},
      "width": 536,
      "height": 321,
      "data": {"name": "frankfurt"},
      "mark": {"type": "line", "strokeWidth": 1.2},
      "encoding": {
        "x": {
          "field": "min", "type": "quantitative",
          "scale": {"domain": [0.37, 120.6], "nice": false, "zero": false},
          "axis": {
            "values": [5,10,15,20,25,30,35,40,45,50,55,60,65,70,75,80,85,90,95,100,105,110,115,120],
            "labelExpr": "datum.value % 20 === 0 ? timeFormat(datetime(2000, 0, 1, 4, datum.value), '%H:%M') : ''",
            "grid": true, "gridColor": "#e2e2e2", "gridWidth": 1, "labelPadding": 9
          }
        },
        "y": {
          "field": "value", "type": "quantitative",
          "scale": {"domain": [0, 3500], "nice": false},
          "axis": {
            "values": [0,250,500,750,1000,1250,1500,1750,2000,2250,2500,2750,3000,3250,3500],
            "labelExpr": "datum.value % 500 === 0 ? (datum.value === 0 ? '0' : format(datum.value, '.1f')) : ''",
            "grid": true, "gridColor": "#eeeeee", "gridWidth": 2,
            "gridOpacity": {"condition": {"test": "datum.value % 500 === 0", "value": 0}, "value": 1},
            "labelPadding": 7
          }
        },
        "color": {
          "field": "series", "type": "nominal",
          "scale": {"domain": ["Outgoing", "Incoming"], "range": ["#6666ff", "#00c000"]},
          "legend": {
            "orient": "none", "legendX": -33, "legendY": 350, "direction": "horizontal", "title": null,
            "symbolType": "square", "symbolSize": 100, "labelFont": "DejaVu Sans Mono", "labelFontSize": 10,
            "labelColor": "#000000", "labelOffset": 5, "columnPadding": 15, "gridAlign": "all", "padding": 0,
            "encode": {"symbols": {"update": {
              "fill": {"signal": "datum.value === 'Outgoing' ? '#6666ff' : datum.value === 'Incoming' ? '#00c000' : '#cc0033'"},
              "fillOpacity": {"value": 1}, "stroke": {"value": "#999999"}, "strokeWidth": {"value": 1}
            }}}
          }
        }
      }
    },
    {
      "title": {"text": "Mumbai"},
      "width": 537,
      "height": 322,
      "view": {"stroke": "#e8d6e8", "strokeWidth": 2},
      "data": {"name": "mumbai"},
      "transform": [{"fold": ["Outgoing", "Incoming", "QueueSize"], "as": ["series", "value"]}],
      "mark": {"type": "line", "strokeWidth": 1.4},
      "encoding": {
        "x": {
          "field": "min", "type": "quantitative",
          "scale": {"domain": [0, 120.5], "nice": false, "zero": false},
          "axis": {
            "values": [0,5,10,15,20,25,30,35,40,45,50,55,60,65,70,75,80,85,90,95,100,105,110,115],
            "labelExpr": "datum.value % 20 === 0 && datum.value > 0 ? timeFormat(datetime(2000, 0, 1, 4, datum.value), '%H:%M') : ''",
            "grid": true, "gridWidth": 1,
            "gridColor": {"condition": {"test": "datum.value % 20 === 0", "value": "#dcc4dc"}, "value": "#e4e4e4"},
            "labelPadding": 10
          }
        },
        "y": {
          "field": "value", "type": "quantitative",
          "scale": {"domain": [0, 10000], "nice": false},
          "axis": {
            "values": [0,1000,2000,3000,4000,5000,6000,7000,8000,9000,10000],
            "labelExpr": "datum.value % 2000 === 0 ? (datum.value === 0 ? '0' : format(datum.value / 1000, '.1f') + ' K') : ''",
            "grid": true, "gridWidth": 1,
            "gridColor": {"condition": {"test": "datum.value % 2000 === 0", "value": "#dcc4dc"}, "value": "#e4e4e4"},
            "labelPadding": 7
          }
        },
        "color": {
          "field": "series", "type": "nominal",
          "scale": {"domain": ["Outgoing", "Incoming", "QueueSize"], "range": ["#6666ff", "#00c000", "#cc0033"]},
          "legend": {
            "orient": "none", "legendX": -33, "legendY": 350, "direction": "horizontal", "title": null,
            "symbolType": "square", "symbolSize": 100, "labelFont": "DejaVu Sans Mono", "labelFontSize": 10,
            "labelColor": "#000000", "labelOffset": 5, "columnPadding": 15, "gridAlign": "all", "padding": 0,
            "encode": {"symbols": {"update": {
              "fill": {"signal": "datum.value === 'Outgoing' ? '#6666ff' : datum.value === 'Incoming' ? '#00c000' : '#cc0033'"},
              "fillOpacity": {"value": 1}, "stroke": {"value": "#999999"}, "strokeWidth": {"value": 1}
            }}}
          }
        }
      }
    }
  ],
  "spacing": 87,
  "bounds": "flush",
  "resolve": {
    "scale": {"x": "independent", "y": "independent", "color": "independent"},
    "axis": {"x": "independent", "y": "independent"},
    "legend": {"color": "independent"}
  }
}
